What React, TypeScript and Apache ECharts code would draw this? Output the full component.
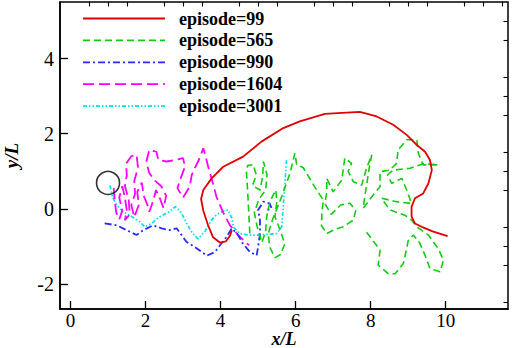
import React, { useEffect, useRef } from "react";
import * as echarts from "echarts";

const seriesNames = ["episode=99", "episode=565", "episode=990", "episode=1604", "episode=3001"];

const ep99: number[][] = [[4.3,-0.57],[4.25,-0.72],[4.14,-0.87],[3.98,-0.90],[3.80,-0.76],[3.67,-0.45],[3.54,-0.05],[3.48,0.26],[3.54,0.50],[3.76,0.81],[4.07,1.12],[4.60,1.39],[5.09,1.79],[5.67,2.15],[6.11,2.33],[6.78,2.53],[7.71,2.58],[8.16,2.46],[8.60,2.24],[8.96,1.97],[9.23,1.70],[9.45,1.52],[9.58,1.30],[9.63,1.03],[9.54,0.68],[9.40,0.41],[9.18,0.28],[9.09,0.05],[9.09,-0.21],[9.18,-0.39],[9.36,-0.48],[9.67,-0.61],[10.05,-0.73]];

const ep565: number[][] = [[4.78,-0.66],[4.76,-0.3],[4.74,0.1],[4.72,0.5],[4.69,0.95],[4.72,1.15],[4.87,1.18],[4.95,0.9],[4.85,0.62],[5.05,0.5],[5.12,0.85],[5.14,1.26],[5.24,0.9],[5.2,0.5],[5.02,0.25],[4.9,-0.1],[4.98,-0.5],[5.1,-0.9],[5.2,-0.6],[5.23,-0.2],[5.32,0.2],[5.47,0.5],[5.5,0.2],[5.45,-0.21],[5.6,-0.6],[5.71,-0.93],[5.6,-1.22],[5.45,-1.3],[5.31,-1.02],[5.27,-0.66],[5.38,-0.3],[5.6,0.25],[5.85,0.95],[5.98,1.48],[6.03,1.17],[6.2,1.1],[6.38,0.8],[6.56,0.5],[6.74,0.23],[6.7,-0.1],[6.69,-0.45],[6.83,-0.66],[7.05,-0.55],[7.27,-0.48],[7.54,-0.3],[7.6,-0.05],[7.45,0.15],[7.2,0.1],[6.95,-0.15],[6.78,0.14],[6.83,0.45],[6.83,0.81],[7.0,0.45],[7.23,0.77],[7.31,1.35],[7.49,1.21],[7.4,1.0],[7.54,0.72],[7.76,0.63],[7.89,1.08],[8.03,1.44],[7.98,1.2],[7.85,0.37],[7.8,0.01],[8.05,0.35],[8.25,0.59],[8.25,0.99],[8.51,1.03],[8.69,1.21],[8.73,1.57],[8.96,1.84],[9.23,1.84],[9.27,1.48],[9.4,1.17],[9.8,1.17],[9.4,1.2],[9.05,1.08],[8.6,1.03],[8.45,0.9],[8.56,0.68],[8.83,0.81],[8.96,0.5],[9.09,0.14],[8.69,0.19],[8.29,0.28],[8.51,-0.03],[8.65,-0.08],[8.91,-0.17],[9.09,-0.3],[9.23,-0.48],[9.54,-0.7],[9.8,-1.06],[9.94,-1.37],[9.85,-1.68],[9.58,-1.59],[9.45,-1.24],[9.3,-0.9],[9.14,-0.7],[9.0,-0.85],[8.96,-1.06],[8.87,-1.46],[8.65,-1.73],[8.47,-1.73],[8.2,-1.5],[8.25,-1.1],[7.85,-0.57]];

const ep990: number[][] = [[0.91,-0.39],[1.23,-0.44],[1.58,-0.61],[1.76,-0.70],[1.94,-0.57],[2.2,-0.44],[2.43,-0.52],[2.65,-0.57],[2.83,-0.52],[2.96,-0.70],[3.09,-0.88],[3.36,-1.05],[3.63,-1.25],[3.85,-1.15],[4.0,-0.95],[4.16,-0.75],[4.3,-0.52],[4.45,-0.68],[4.6,-0.93],[4.78,-1.15],[4.96,-1.24],[5.0,-1.02],[5.05,-0.66],[5.05,-0.30],[5.0,-0.03],[5.14,0.19],[5.31,0.14],[5.36,0.01],[5.25,-0.03]];

const ep1604: number[][] = [[1.15,0.55],[1.18,0.2],[1.22,-0.1],[1.3,-0.28],[1.38,-0.05],[1.3,0.3],[1.38,0.6],[1.45,0.3],[1.5,-0.05],[1.45,-0.3],[1.58,-0.15],[1.55,0.25],[1.45,0.6],[1.5,0.9],[1.48,1.2],[1.62,1.4],[1.76,1.44],[1.8,1.1],[1.7,0.75],[1.72,0.4],[1.62,0.1],[1.7,-0.22],[1.82,0.1],[1.78,0.45],[1.9,0.7],[1.95,0.35],[2.05,0.1],[2.1,-0.08],[2.2,0.2],[2.28,0.5],[2.38,0.28],[2.48,0.02],[2.55,0.35],[2.42,0.6],[2.25,0.75],[2.1,0.95],[2.02,1.25],[2.1,1.57],[2.29,1.52],[2.34,1.3],[2.56,1.26],[2.78,1.3],[3.0,1.35],[3.05,1.12],[2.95,0.85],[2.85,0.55],[3.0,0.3],[3.18,0.6],[3.23,0.9],[3.31,1.08],[3.42,1.3],[3.54,1.61],[3.6,1.4],[3.67,1.12],[3.76,0.81],[3.89,0.32],[4.07,-0.1],[4.25,-0.44],[4.47,-0.7],[4.65,-0.88],[4.76,-0.97]];

const ep3001: number[][] = [[1.05,0.62],[1.09,0.45],[1.14,0.27],[1.23,0.10],[1.4,-0.08],[1.58,-0.17],[1.85,-0.35],[1.98,-0.48],[2.16,-0.39],[2.38,-0.21],[2.6,-0.1],[2.8,0.06],[2.95,-0.1],[3.1,-0.4],[3.25,-0.65],[3.4,-0.8],[3.58,-0.61],[3.76,-0.3],[3.9,-0.15],[4.07,-0.06],[4.2,-0.03],[4.3,-0.25],[4.34,-0.48],[4.51,-0.66],[4.75,-0.70],[4.96,-0.70],[5.25,-0.68],[5.49,-0.66],[5.63,-0.48],[5.67,0.05],[5.71,0.59],[5.76,1.35]];

const circleCenter: number[][] = [[1.0, 0.69]];

const xMajorTicks = [0, 2, 4, 6, 8, 10];
const xMinorTicks = [0.5, 1, 1.5, 2.5, 3, 3.5, 4.5, 5, 5.5, 6.5, 7, 7.5, 8.5, 9, 9.5, 10.5, 11, 11.5];
const yMajorTicks = [-2, 0, 2, 4];
const yMinorTicks = [-2.5, -1.5, -1, -0.5, 0.5, 1, 1.5, 2.5, 3, 3.5, 4.5, 5];

const xRange = [-0.28, 11.66];
const yRange = [-2.67, 5.51];

const colors = ["#e00000", "#11cc11", "#2a2aff", "#ff00ff", "#00e0e8"];
const dashes: (number[] | null)[] = [null, [7, 4], [7, 3, 2, 3], [11, 5], [4, 2, 1.5, 2, 1.5, 2]];
const widths = [1.8, 1.6, 1.8, 1.8, 1.7];

const FONT = "Liberation Serif";

export default function App() {
  const ref = useRef<HTMLDivElement>(null);
  useEffect(() => {
    document.body.style.margin = "0";
    const chart = echarts.init(ref.current!, null, { renderer: "svg" });
    const dataSets = [ep99, ep565, ep990, ep1604, ep3001];
    const lineSeries = dataSets.map((d, i) => ({
      name: seriesNames[i],
      type: "line",
      data: d,
      showSymbol: false,
      symbol: "none",
      xAxisIndex: 0,
      yAxisIndex: 0,
      lineStyle: {
        color: colors[i],
        width: widths[i],
        type: dashes[i] ? dashes[i] : "solid",
      },
      z: 5 - i,
    }));
    const legendElems: any[] = [];
    seriesNames.forEach((n, i) => {
      const yc = 18.5 + i * 21.9;
      legendElems.push({
        type: "line",
        shape: { x1: 83, y1: yc, x2: 165, y2: yc },
        style: { stroke: colors[i], lineWidth: widths[i], lineDash: dashes[i] || undefined },
      });
      legendElems.push({
        type: "text",
        x: 179,
        y: yc,
        style: {
          text: n,
          font: "bold 18px " + FONT,
          fontFamily: FONT,
          fontWeight: "bold",
          fontSize: 18,
          fill: "#000",
          verticalAlign: "middle",
          align: "left",
        },
      });
    });
    const axisCommon = (isX: boolean) => ({
      type: "value",
      min: isX ? xRange[0] : yRange[0],
      max: isX ? xRange[1] : yRange[1],
      splitLine: { show: false },
    });
    chart.setOption({
      animation: false,
      backgroundColor: "#fff",
      textStyle: { fontFamily: FONT },
      grid: {
        left: 60,
        right: 4,
        top: 2,
        bottom: 39,
        containLabel: false,
        outerBoundsMode: "none",
        show: true,
        borderColor: "#000",
        borderWidth: 1.5,
        backgroundColor: "transparent",
      },
      xAxis: [
        {
          ...axisCommon(true),
          name: "x/L",
          nameLocation: "middle",
          nameGap: 21,
          nameMoveOverlap: false,
          nameTextStyle: { fontFamily: FONT, fontWeight: "bold", fontStyle: "italic", fontSize: 18, color: "#000" },
          axisLine: { show: true, onZero: false, lineStyle: { color: "#000", width: 1.5 } },
          axisTick: { show: true, inside: true, length: 8, customValues: xMajorTicks, lineStyle: { color: "#000", width: 1.3 } },
          axisLabel: { show: true, customValues: xMajorTicks, margin: 2, fontFamily: FONT, fontSize: 19, color: "#000" },
        },
        {
          ...axisCommon(true),
          axisLine: { show: false, onZero: false },
          axisTick: { show: true, inside: true, length: 4.5, customValues: xMinorTicks, lineStyle: { color: "#000", width: 1.1 } },
          axisLabel: { show: false },
        },
      ],
      yAxis: [
        {
          ...axisCommon(false),
          name: "y/L",
          nameLocation: "middle",
          nameGap: 39,
          nameRotate: 90,
          nameTextStyle: { fontFamily: FONT, fontWeight: "bold", fontStyle: "italic", fontSize: 19, color: "#000" },
          axisLine: { show: true, onZero: false, lineStyle: { color: "#000", width: 1.5 } },
          axisTick: { show: true, inside: true, length: 8, customValues: yMajorTicks, lineStyle: { color: "#000", width: 1.3 } },
          axisLabel: { show: true, customValues: yMajorTicks, margin: 6, fontFamily: FONT, fontSize: 20, color: "#000" },
        },
        {
          ...axisCommon(false),
          axisLine: { show: false, onZero: false },
          axisTick: { show: true, inside: true, length: 4.5, customValues: yMinorTicks, lineStyle: { color: "#000", width: 1.1 } },
          axisLabel: { show: false },
        },
      ],
      series: [
        ...lineSeries,
        {
          name: "body",
          type: "scatter",
          data: circleCenter,
          symbol: "circle",
          symbolSize: 23,
          itemStyle: { color: "rgba(0,0,0,0)", borderColor: "#000", borderWidth: 1.6 },
          z: 10,
        },
      ],
      graphic: legendElems,
    });
    return () => chart.dispose();
  }, []);
  return <div ref={ref} style={{ width: 512, height: 348 }} />;
}
